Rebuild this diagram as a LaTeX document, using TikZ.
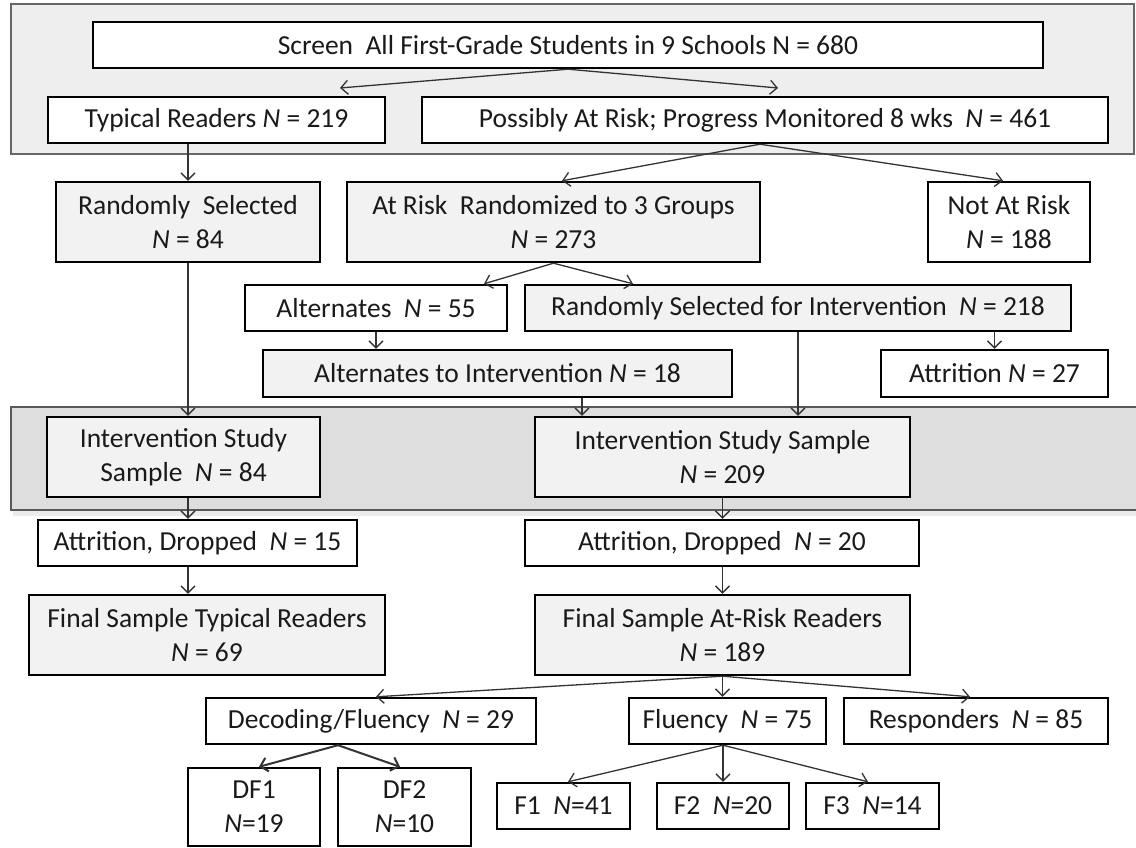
\documentclass[tikz,border=0pt]{standalone}
\usepackage{fontspec}
\setmainfont{Carlito}
\usetikzlibrary{arrows.meta,calc}
\definecolor{pone}{HTML}{EEEEEE}
\definecolor{ptwo}{HTML}{DEDEDE}
\definecolor{boxg}{HTML}{F2F2F2}
\definecolor{linec}{HTML}{333333}
\definecolor{txt}{HTML}{1A1A1A}
\newcommand\nN{\textit{N}}
\tikzset{
  bx/.style={draw=black, line width=2.4pt, fill=white, inner sep=0pt, align=center, text=txt,
             font=\fontsize{27.5}{34}\selectfont},
  gbx/.style={bx, fill=boxg},
  arr/.style={draw=linec, line width=1.3pt, -{Straight Barb[length=7pt,width=14pt]}},
  darr/.style={arr, line width=2pt},
  panel/.style={line width=1.5pt},
}
\begin{document}
\begin{tikzpicture}[x=1pt,y=-1pt]
\useasboundingbox (0,0) rectangle (1136,848);
% panels
\draw[panel, draw=gray!80!black, fill=pone] (11,4) rectangle (1134,154);
\fill[black!8] (13,511) rectangle (1136,516);
\draw[panel, draw=gray!70!black, fill=ptwo] (11,407) rectangle (1140,510);
% nodes
\node[bx, minimum width=950pt, minimum height=46pt] (screen) at (568,45) {Screen\ \ All First-Grade Students in 9 Schools N = 680};
\node[bx, minimum width=337pt, minimum height=46pt] (typ) at (216.5,120) {Typical Readers \nN{} = 219};
\node[bx, minimum width=686pt, minimum height=46pt] (poss) at (765,120) {Possibly At Risk; Progress Monitored 8 wks\ \ \nN{} = 461};
\node[gbx, minimum width=264pt, minimum height=80pt] (rsel) at (188,222) {Randomly\ \ Selected\\\nN{} = 84};
\node[gbx, minimum width=413pt, minimum height=80pt] (arisk) at (553.5,222) {At Risk\ \ Randomized to 3 Groups\\\nN{} = 273};
\node[bx, minimum width=162pt, minimum height=80pt] (nrisk) at (1009,222) {Not At Risk\\\nN{} = 188};
\node[bx, minimum width=262pt, minimum height=46pt] (alt) at (376,308) {Alternates\ \ \nN{} = 55};
\node[gbx, minimum width=546pt, minimum height=46pt] (rsi) at (798,308) {Randomly Selected for Intervention\ \ \nN{} = 218};
\node[gbx, minimum width=469pt, minimum height=47pt] (altint) at (497.5,373.5) {Alternates to Intervention \nN{} = 18};
\node[bx, minimum width=227pt, minimum height=47pt] (atta) at (994.5,373.5) {Attrition \nN{} = 27};
\node[gbx, minimum width=273pt, minimum height=80pt] (isa) at (183.5,457) {Intervention Study\\Sample\ \ \nN{} = 84};
\node[gbx, minimum width=375pt, minimum height=80pt] (isb) at (722.5,457) {Intervention Study Sample\\\nN{} = 209};
\node[bx, minimum width=319pt, minimum height=46pt] (attb) at (197.5,543) {Attrition, Dropped\ \ \nN{} = 15};
\node[bx, minimum width=394pt, minimum height=46pt] (attc) at (722,543) {Attrition, Dropped\ \ \nN{} = 20};
\node[gbx, minimum width=356pt, minimum height=80pt] (fta) at (207,635) {Final Sample Typical Readers\\\nN{} = 69};
\node[gbx, minimum width=375pt, minimum height=80pt] (ftb) at (722.5,635) {Final Sample At-Risk Readers\\\nN{} = 189};
\node[bx, minimum width=330pt, minimum height=46pt] (dec) at (371,721) {Decoding/Fluency\ \ \nN{} = 29};
\node[bx, minimum width=197pt, minimum height=46pt] (flu) at (727.5,721) {Fluency\ \ \nN{} = 75};
\node[bx, minimum width=264pt, minimum height=46pt] (resp) at (976,721) {Responders\ \ \nN{} = 85};
\node[bx, minimum width=132pt, minimum height=78pt] (dfa) at (254,807) {DF1\\\nN{}=19};
\node[bx, minimum width=133pt, minimum height=78pt] (dfb) at (404.5,807) {DF2\\\nN{}=10};
\node[bx, minimum width=133pt, minimum height=46pt] (fa) at (563.5,806) {F1\ \ \nN{}=41};
\node[bx, minimum width=132pt, minimum height=46pt] (fb) at (723,806) {F2\ \ \nN{}=20};
\node[bx, minimum width=133pt, minimum height=46pt] (fc) at (872.5,806) {F3\ \ \nN{}=14};
% free ends
\coordinate (ta) at (340,88);
\coordinate (tb) at (778,88);
\coordinate (cx) at ([xshift=84.5pt]altint.south);
% connectors
\draw[arr] (screen.south) -- (ta);
\draw[arr] (screen.south) -- (tb);
\draw[arr] (typ.south -| rsel.north) -- (rsel.north);
\draw[arr] ([xshift=-5pt]poss.south) -- ([xshift=8.5pt]arisk.north);
\draw[arr] ([xshift=-5pt]poss.south) -- ([xshift=-6pt]nrisk.north);
\draw[arr] (rsel.south) -- (rsel.south |- isa.north);
\draw[arr] (arisk.south) -- ([xshift=108pt]alt.north);
\draw[arr] (arisk.south) -- ([xshift=-165pt]rsi.north);
\draw[arr] (alt.south) -- (alt.south |- altint.north);
\draw[arr] (atta.north |- rsi.south) -- (atta.north);
\draw[arr] (rsi.south) -- (rsi.south |- isb.north);
\draw[arr] (cx) -- (cx |- isb.north);
\draw[arr] (rsel.south |- isa.south) -- (rsel.south |- attb.north);
\draw[arr] (rsel.south |- attb.south) -- (rsel.south |- fta.north);
\draw[arr] (isb.south) -- (isb.south |- attc.north);
\draw[arr] (isb.south |- attc.south) -- (isb.south |- ftb.north);
\draw[arr] (ftb.south) -- ([xshift=5pt]dec.north);
\draw[arr] (ftb.south) -- (ftb.south |- flu.north);
\draw[arr] (ftb.south) -- ([xshift=-6pt]resp.north);
\draw[darr] ([xshift=-33pt]dec.south) -- ([xshift=5pt]dfa.north);
\draw[darr] ([xshift=-33pt]dec.south) -- ([xshift=-4.5pt]dfb.north);
\draw[arr] ([xshift=-4.5pt]flu.south) -- ([xshift=4.5pt]fa.north);
\draw[arr] ([xshift=-4.5pt]flu.south) -- (fb.north);
\draw[arr] ([xshift=-4.5pt]flu.south) -- ([xshift=-4.5pt]fc.north);
\end{tikzpicture}
\end{document}
